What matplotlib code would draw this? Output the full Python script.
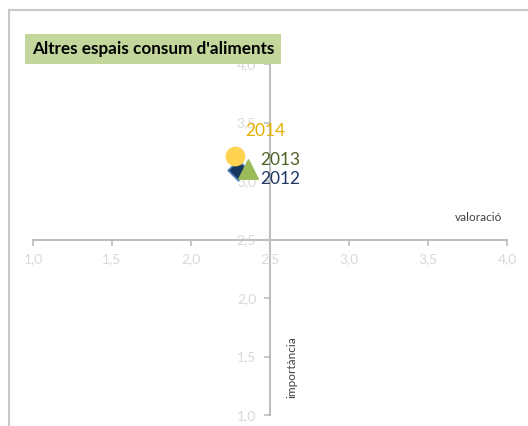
import matplotlib
matplotlib.use('Agg')
import matplotlib.pyplot as plt
from matplotlib.patches import Rectangle
from matplotlib.ticker import FixedLocator, FuncFormatter

plt.rcParams['font.family'] = ['Lato', 'DejaVu Sans']

# ── Dades ─────────────────────────────────────────────────────────────────────
years       = ['2012', '2013', '2014']
valoracio   = [2.30, 2.36, 2.28]
importancia = [3.09, 3.10, 3.21]
markers     = ['D', '^', 'o']
sizes       = [110, 190, 170]
fill_cols   = ['#17375E', '#9BBB59', '#FFD34F']
edge_cols   = ['#4F81BD', '#9BBB59', '#FFD34F']
text_cols   = ['#1F3864', '#4F6228', '#E5B000']
label_pos   = [(2.44, 3.02), (2.44, 3.18), (2.34, 3.43)]
ticks       = [1.0, 1.5, 2.0, 2.5, 3.0, 3.5, 4.0]

W, H = 528, 426
fig = plt.figure(figsize=(W / 100, H / 100), dpi=100)

# marc exterior
fig.patches.append(Rectangle((9 / W, -0.1), 1.2, (H - 10) / H + 0.1,
                             transform=fig.transFigure, fill=False,
                             edgecolor='#C8C8C8', linewidth=1.5))

ax = fig.add_axes([33 / W, 11 / H, (507 - 33) / W, (415 - 64) / H])
ax.set_xlim(1, 4)
ax.set_ylim(1, 4)
ax.patch.set_alpha(0)

for s in ['top', 'right']:
    ax.spines[s].set_visible(False)
ax.spines['left'].set_position(('data', 2.5))
ax.spines['bottom'].set_position(('data', 2.5))
for s in ['left', 'bottom']:
    ax.spines[s].set_color('#BFBFBF')
    ax.spines[s].set_linewidth(1.5)

fmt = FuncFormatter(lambda v, p: f'{v:.1f}'.replace('.', ','))
ax.xaxis.set_major_locator(FixedLocator(ticks))
ax.yaxis.set_major_locator(FixedLocator(ticks))
ax.xaxis.set_major_formatter(fmt)
ax.yaxis.set_major_formatter(fmt)
ax.tick_params(colors='#BFBFBF', labelcolor='#D9D9D9', labelsize=10,
               length=4, width=1.2, direction='out', pad=6)

for x, y, m, sz, fc, ec, tc, yr, (lx, ly) in zip(valoracio, importancia, markers,
                                                 sizes, fill_cols, edge_cols,
                                                 text_cols, years, label_pos):
    ax.scatter([x], [y], marker=m, s=sz, color=fc,
               edgecolors=ec, linewidths=1.2, zorder=3)
    ax.text(lx, ly, yr, color=tc, fontsize=12.5, va='center', ha='left')

ax.text(3.82, 2.66, 'valoració', fontsize=8.5, color='#404040', ha='center')
ax.text(2.64, 1.41, 'importància', fontsize=8.5, color='#404040',
        rotation=90, va='center', ha='center')

fig.text(153 / W, 1 - 49 / H, "Altres espais consum d'aliments",
         fontsize=12.3, fontweight='bold', color='black', ha='center', va='center',
         bbox=dict(boxstyle='square,pad=0.4', facecolor='#C3D69B', edgecolor='none'))

fig.savefig('out.png', dpi=100)
